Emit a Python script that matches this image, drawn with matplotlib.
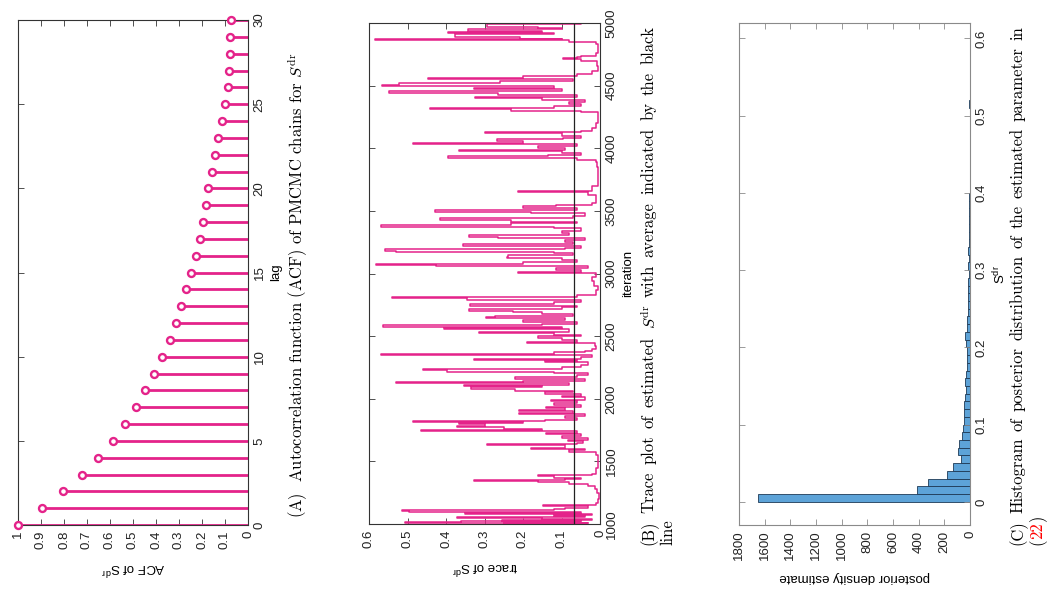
import numpy as np
import matplotlib
matplotlib.use('Agg')
import matplotlib.pyplot as plt

plt.rcParams['font.family'] = ['Liberation Sans', 'DejaVu Sans']
plt.rcParams['mathtext.default'] = 'regular'

# ---------------- data ----------------
acf_lags = list(range(31))
acf_values = [1.0, 0.896, 0.805, 0.723, 0.654, 0.587, 0.535, 0.489, 0.447, 0.408,
              0.372, 0.341, 0.315, 0.290, 0.268, 0.248, 0.228, 0.208, 0.195, 0.182,
              0.172, 0.156, 0.143, 0.130, 0.114, 0.101, 0.089, 0.084, 0.079, 0.079,
              0.074]

trace_iter = [1000, 1005, 1009, 1015, 1020, 1025, 1030, 1040, 1049, 1055, 1062, 1070,
              1080, 1090, 1098, 1103, 1110, 1118, 1125, 1142, 1150, 1170, 1200, 1250,
              1280, 1300, 1320, 1335, 1342, 1350, 1360, 1370, 1380, 1390, 1400, 1450,
              1500, 1550, 1575, 1590, 1600, 1610, 1630, 1640, 1650, 1660, 1670, 1690,
              1700, 1715, 1725, 1742, 1750, 1760, 1776, 1785, 1795, 1805, 1814, 1822,
              1830, 1845, 1860, 1875, 1885, 1901, 1910, 1925, 1935, 1950, 1965, 1981,
              1990, 2010, 2025, 2040, 2050, 2065, 2080, 2090, 2101, 2110, 2128, 2135,
              2145, 2160, 2175, 2190, 2205, 2215, 2226, 2235, 2250, 2270, 2290, 2300,
              2306, 2315, 2330, 2350, 2358, 2370, 2385, 2400, 2425, 2443, 2455, 2470,
              2488, 2500, 2510, 2523, 2535, 2555, 2565, 2576, 2585, 2600, 2615, 2630,
              2642, 2650, 2660, 2675, 2690, 2704, 2715, 2730, 2744, 2755, 2770, 2790,
              2802, 2812, 2830, 2870, 2900, 2940, 2970, 3002, 3015, 3030, 3045, 3060,
              3069, 3078, 3090, 3105, 3120, 3135, 3145, 3160, 3175, 3183, 3192, 3205,
              3223, 3235, 3250, 3265, 3280, 3295, 3305, 3320, 3340, 3360, 3375, 3385,
              3400, 3415, 3428, 3440, 3460, 3480, 3495, 3505, 3521, 3535, 3545, 3560,
              3600, 3630, 3649, 3660, 3700, 3750, 3800, 3850, 3890, 3910, 3925, 3935,
              3950, 3965, 3981, 3990, 4005, 4015, 4031, 4040, 4058, 4070, 4085, 4100,
              4119, 4128, 4140, 4160, 4200, 4250, 4290, 4300, 4311, 4320, 4335, 4350,
              4370, 4385, 4399, 4410, 4425, 4444, 4455, 4473, 4485, 4500, 4508, 4520,
              4535, 4550, 4560, 4572, 4580, 4590, 4620, 4660, 4700, 4710, 4720, 4726,
              4735, 4760, 4800, 4830, 4845, 4862, 4870, 4875, 4885, 4899, 4910, 4918,
              4930, 4939, 4950, 4960, 4970, 4985, 4992, 5000]
trace_value = [0.25, 0.03, 0.507, 0.36, 0.05, 0.255, 0.02, 0.15, 0.372, 0.04, 0.12, 0.02,
               0.35, 0.05, 0.497, 0.514, 0.12, 0.09, 0.03, 0.147, 0.01, 0.005, 0.003, 0.008,
               0.012, 0.03, 0.08, 0.16, 0.327, 0.09, 0.05, 0.12, 0.16, 0.02, 0.01, 0.006,
               0.004, 0.01, 0.08, 0.04, 0.18, 0.09, 0.294, 0.06, 0.044, 0.083, 0.03, 0.10,
               0.05, 0.139, 0.06, 0.466, 0.15, 0.25, 0.372, 0.30, 0.365, 0.20, 0.485, 0.143,
               0.06, 0.09, 0.04, 0.21, 0.07, 0.21, 0.09, 0.139, 0.05, 0.12, 0.06, 0.126,
               0.04, 0.10, 0.05, 0.143, 0.07, 0.22, 0.334, 0.15, 0.353, 0.08, 0.531, 0.20,
               0.04, 0.222, 0.06, 0.03, 0.12, 0.397, 0.46, 0.10, 0.05, 0.03, 0.143, 0.06,
               0.328, 0.05, 0.02, 0.57, 0.12, 0.04, 0.02, 0.01, 0.012, 0.19, 0.06, 0.10,
               0.16, 0.05, 0.12, 0.313, 0.08, 0.404, 0.10, 0.564, 0.15, 0.06, 0.20, 0.09,
               0.296, 0.272, 0.07, 0.15, 0.225, 0.341, 0.10, 0.06, 0.337, 0.12, 0.05, 0.346,
               0.541, 0.06, 0.01, 0.005, 0.015, 0.02, 0.01, 0.214, 0.05, 0.113, 0.03, 0.426,
               0.583, 0.20, 0.06, 0.10, 0.242, 0.238, 0.07, 0.12, 0.53, 0.559, 0.09, 0.05,
               0.356, 0.07, 0.09, 0.04, 0.264, 0.34, 0.08, 0.10, 0.05, 0.12, 0.568, 0.23,
               0.06, 0.23, 0.415, 0.07, 0.04, 0.178, 0.429, 0.06, 0.20, 0.113, 0.02, 0.01,
               0.01, 0.03, 0.214, 0.02, 0.005, 0.004, 0.006, 0.008, 0.01, 0.06, 0.394, 0.134,
               0.05, 0.10, 0.365, 0.09, 0.16, 0.06, 0.486, 0.20, 0.268, 0.096, 0.05, 0.10,
               0.30, 0.05, 0.02, 0.01, 0.005, 0.006, 0.05, 0.23, 0.442, 0.12, 0.05, 0.08,
               0.04, 0.15, 0.324, 0.06, 0.266, 0.548, 0.10, 0.326, 0.12, 0.567, 0.522, 0.26,
               0.07, 0.447, 0.20, 0.20, 0.06, 0.02, 0.005, 0.008, 0.05, 0.095, 0.06, 0.05,
               0.01, 0.005, 0.004, 0.01, 0.08, 0.585, 0.10, 0.208, 0.376, 0.376, 0.12, 0.396,
               0.15, 0.344, 0.10, 0.16, 0.294, 0.294, 0.05, 0.03]
trace_mean = 0.068

hist_heights = [1650, 415, 325, 177, 130, 73, 90, 85, 65, 57,
                49, 47, 49, 36, 31, 42, 31, 26, 23, 21,
                31, 36, 25, 20, 15, 14, 12, 18, 12, 10,
                12, 10, 18, 8, 8, 6, 7, 5, 4, 5,
                3, 3, 2, 2, 2, 1, 1, 1, 1, 1,
                2, 5, 1]
hist_bin_width = 0.01

SDR = r'$\mathit{S}^{\mathrm{dr}}$'
caption_a = '(A)  Autocorrelation function (ACF) of PMCMC chains for ' + SDR
caption_b1 = ['(B)', 'Trace', 'plot', 'of', 'estimated', SDR, 'with', 'average',
              'indicated', 'by', 'the', 'black']
caption_b2 = 'line'
caption_c1 = ['(C)', 'Histogram', 'of', 'posterior', 'distribution', 'of', 'the',
              'estimated', 'parameter', 'in']
caption_c2 = [('(', 'black'), ('22', 'red'), (')', 'black')]

PINK = '#E4238A'
W, H = 1058, 604

fig = plt.figure(figsize=(W / 100, H / 100), dpi=100)
renderer = fig.canvas.get_renderer()


def ax_at(x0, y0, x1, y1):
    return fig.add_axes([x0 / W, 1 - y1 / H, (x1 - x0) / W, (y1 - y0) / H])


def style(ax, spine_color):
    for s in ax.spines.values():
        s.set_color(spine_color)
        s.set_linewidth(0.8)
    ax.tick_params(direction='in', length=4, width=0.6, color=spine_color,
                   labelsize=9.5, labelcolor='#222222',
                   top=True, bottom=True, left=True, right=True,
                   labelleft=False, labelright=True, labelbottom=True, labeltop=False,
                   labelrotation=90, pad=4)
    ax.yaxis.set_label_position('right')
    for lab in ax.get_yticklabels():
        lab.set_va('center')


# ---------------- (A) ACF ----------------
axA = ax_at(18, 20, 248, 525)
axA.hlines(acf_lags, 0, acf_values, color=PINK, lw=2.0)
axA.plot(acf_values, acf_lags, 'o', ms=5, mfc='white', mec=PINK, mew=1.7, clip_on=False,
         zorder=5)
axA.set_xlim(1, 0)
axA.set_ylim(0, 30)
axA.set_xticks(np.arange(0, 1.01, 0.1))
axA.set_xticklabels(['0', '0.1', '0.2', '0.3', '0.4', '0.5', '0.6', '0.7', '0.8', '0.9', '1'])
axA.set_yticks(range(0, 31, 5))
style(axA, '#333333')
axA.set_xlabel('ACF of $S^{dr}$', rotation=180, fontsize=9.5, labelpad=8)
axA.set_ylabel('lag', rotation=90, fontsize=9.5, labelpad=3)

# ---------------- (B) trace ----------------
axB = ax_at(369, 23, 600, 524)
axB.plot(trace_value, trace_iter, color=PINK, lw=1.1, drawstyle='steps-pre')
axB.axvline(trace_mean, color='#222222', lw=0.9)
axB.set_xlim(0.6, 0)
axB.set_ylim(1000, 5000)
axB.set_xticks(np.arange(0, 0.61, 0.1))
axB.set_xticklabels(['0', '0.1', '0.2', '0.3', '0.4', '0.5', '0.6'])
axB.set_yticks(range(1000, 5001, 500))
style(axB, '#333333')
axB.set_xlabel('trace of $S^{dr}$', rotation=180, fontsize=9.5, labelpad=8)
axB.set_ylabel('iteration', rotation=90, fontsize=9.5, labelpad=3)

# ---------------- (C) histogram ----------------
axC = ax_at(739, 23, 970, 525)
centers = np.arange(len(hist_heights)) * hist_bin_width + hist_bin_width / 2
axC.barh(centers, hist_heights, height=hist_bin_width, color='#5DA3D8',
         edgecolor='#1E3A56', linewidth=0.6)
axC.set_xlim(1800, 0)
axC.set_ylim(-0.03, 0.62)
axC.set_xticks(range(0, 1801, 200))
axC.set_yticks(np.arange(0, 0.61, 0.1))
axC.set_yticklabels(['0', '0.1', '0.2', '0.3', '0.4', '0.5', '0.6'])
style(axC, '#8A8A8A')
axC.set_xlabel('posterior density estimate', rotation=180, fontsize=9.5, labelpad=8)
axC.set_ylabel('$S^{dr}$', rotation=90, fontsize=9.5, labelpad=3)

# ---------------- captions ----------------
cap_kw = dict(rotation=90, ha='center', va='bottom', fontfamily='cmr10',
              math_fontfamily='cm')

# size chosen so that caption (A) covers the same length as in the reference
tA = fig.text(298 / W, 1 - 518 / H, caption_a, fontsize=10, **cap_kw)
lenA = tA.get_window_extent(renderer).height
cap_size = 10 * 466 / lenA
tA.set_fontsize(cap_size)


def word_line(x_px, y_bottom, parts, y_top=None):
    """Place words (text, colour) upward from y_bottom; justify to y_top if given."""
    texts = [fig.text(x_px / W, 0, p, color=c, fontsize=cap_size, **cap_kw)
             for p, c in parts]
    lens = [t.get_window_extent(renderer).height for t in texts]
    if y_top is not None and len(texts) > 1:
        gap = ((y_bottom - y_top) - sum(lens)) / (len(texts) - 1)
    else:
        gap = 0
    y = y_bottom
    for t, ln in zip(texts, lens):
        t.set_position((x_px / W, 1 - y / H))
        y -= ln + gap


word_line(649, 545, [(w, 'black') for w in caption_b1], y_top=26)
word_line(668, 545, [(caption_b2, 'black')])
word_line(1018, 545, [(w, 'black') for w in caption_c1], y_top=26)
word_line(1037, 545, caption_c2)

fig.savefig('out.png', dpi=100)
